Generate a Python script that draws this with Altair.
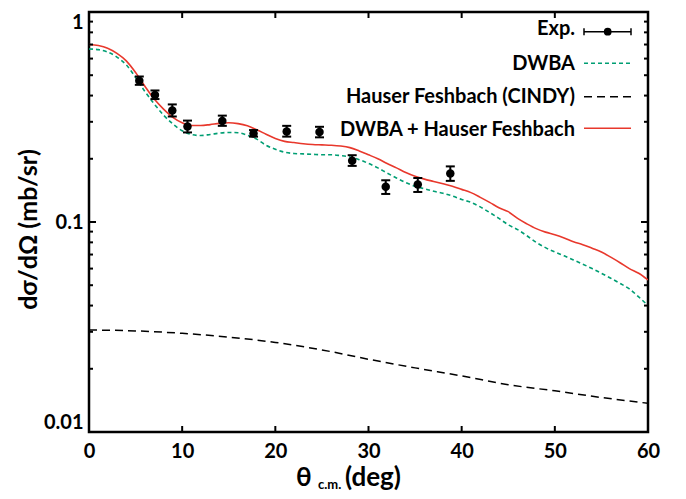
import altair as alt
import pandas as pd

# ---------------- data ----------------
theta_curve = list(range(0, 61))
dwba = [0.667, 0.662, 0.645, 0.610, 0.560, 0.488, 0.418, 0.365, 0.323, 0.293,
        0.272, 0.261, 0.258, 0.261, 0.265, 0.267, 0.266, 0.259, 0.248, 0.232,
        0.222, 0.215, 0.212, 0.211, 0.210, 0.209, 0.209, 0.207, 0.204, 0.198,
        0.190, 0.181, 0.171, 0.162, 0.154, 0.148, 0.144, 0.140, 0.137, 0.133,
        0.128, 0.124, 0.118, 0.111, 0.104, 0.097, 0.092, 0.086, 0.080, 0.0755,
        0.072, 0.069, 0.066, 0.063, 0.060, 0.057, 0.054, 0.051, 0.048, 0.044,
        0.040]
dwba_hf = [0.700, 0.692, 0.672, 0.635, 0.585, 0.515, 0.443, 0.385, 0.345, 0.315,
           0.297, 0.288, 0.288, 0.291, 0.295, 0.297, 0.294, 0.287, 0.275, 0.262,
           0.250, 0.242, 0.239, 0.236, 0.234, 0.233, 0.232, 0.230, 0.226, 0.218,
           0.209, 0.200, 0.190, 0.181, 0.172, 0.165, 0.160, 0.156, 0.152, 0.148,
           0.143, 0.138, 0.131, 0.124, 0.117, 0.112, 0.104, 0.098, 0.093, 0.0895,
           0.087, 0.084, 0.0805, 0.078, 0.075, 0.072, 0.068, 0.064, 0.060, 0.057,
           0.053]
hf_theta = [0, 5, 10, 15, 20, 25, 30, 35, 40, 45, 50, 55, 60]
hf = [0.0306, 0.0303, 0.0295, 0.0283, 0.0267, 0.0246, 0.0222, 0.0202, 0.0185,
      0.0168, 0.0157, 0.0146, 0.0137]

exp_theta = [5.40, 7.08, 8.94, 10.57, 14.31, 17.66, 21.22, 24.74, 28.25, 31.85, 35.29, 38.78]
exp_val = [0.471, 0.403, 0.340, 0.285, 0.303, 0.264, 0.270, 0.268, 0.196, 0.147, 0.151, 0.170]
exp_lo = [0.450, 0.385, 0.318, 0.267, 0.287, 0.255, 0.255, 0.253, 0.185, 0.136, 0.139, 0.157]
exp_hi = [0.493, 0.423, 0.363, 0.304, 0.321, 0.274, 0.287, 0.284, 0.208, 0.158, 0.162, 0.184]

x_ticks = [0, 10, 20, 30, 40, 50, 60]
y_major = [0.01, 0.1, 1]
y_minor = [0.02, 0.03, 0.04, 0.05, 0.06, 0.07, 0.08, 0.09,
           0.2, 0.3, 0.4, 0.5, 0.6, 0.7, 0.8, 0.9]

legend_labels = ["Exp.", "DWBA", "Hauser Feshbach (CINDY)", "DWBA + Hauser Feshbach"]

# ---------------- styling ----------------
W, H = 559, 420
FONT = "Lato"
GREEN = "#009E73"
RED = "#e8382c"

xs = alt.Scale(domain=[0, 60], nice=False, zero=False, padding=0)
ys = alt.Scale(type="log", domain=[0.01, 1], nice=False, padding=0)

x_axis = alt.Axis(values=x_ticks, ticks=False, domain=False, grid=False,
                  labelFont=FONT, labelFontSize=20, labelFontWeight="bold",
                  labelColor="black", labelPadding=9, labelFlush=False, title=None)
y_axis = alt.Axis(values=y_major, format="~g", ticks=False, domain=False, grid=False,
                  labelFont=FONT, labelFontSize=20, labelFontWeight="bold",
                  labelColor="black", labelPadding=6, labelFlush=True,
                  title="dσ/dΩ  (mb/sr)", titleFont=FONT, titleFontSize=25,
                  titleFontWeight="bold", titleColor="black", titleAngle=270,
                  titleX=-61, titleY=217, titleAlign="center", titleBaseline="middle")


def X(field):
    return alt.X(field, type="quantitative", scale=xs, axis=x_axis)


def Y(field):
    return alt.Y(field, type="quantitative", scale=ys, axis=y_axis)


curves = pd.DataFrame({"theta": theta_curve, "dwba": dwba, "sum": dwba_hf})
hf_df = pd.DataFrame({"theta": hf_theta, "hf": hf})
exp_df = pd.DataFrame({"theta": exp_theta, "val": exp_val, "lo": exp_lo, "hi": exp_hi})

base_curves = alt.Chart(curves)

dwba_line = base_curves.mark_line(color=GREEN, strokeWidth=1.6, strokeDash=[4, 3],
                                  interpolate="monotone", clip=True).encode(
    x=X("theta"), y=Y("dwba"))
sum_line = base_curves.mark_line(color=RED, strokeWidth=1.6, interpolate="monotone",
                                 clip=True).encode(x=X("theta"), y=Y("sum"))
hf_line = alt.Chart(hf_df).mark_line(color="black", strokeWidth=1.5, strokeDash=[8, 5],
                                     interpolate="monotone", clip=True).encode(
    x=X("theta"), y=Y("hf"))

base_exp = alt.Chart(exp_df)
err = base_exp.mark_rule(color="black", strokeWidth=2).encode(
    x=X("theta"), y=Y("lo"), y2="hi")
cap_lo = base_exp.mark_tick(color="black", opacity=1, orient="horizontal", size=9,
                            thickness=2).encode(x=X("theta"), y=Y("lo"))
cap_hi = base_exp.mark_tick(color="black", opacity=1, orient="horizontal", size=9,
                            thickness=2).encode(x=X("theta"), y=Y("hi"))
pts = base_exp.mark_circle(color="black", opacity=1, size=72).encode(
    x=X("theta"), y=Y("val"))

# inward tick marks on all four sides
ymaj_df = pd.DataFrame({"v": y_major})
ymin_df = pd.DataFrame({"v": y_minor})
xt_df = pd.DataFrame({"theta": x_ticks[1:-1]})
tk = dict(color="black", strokeWidth=2)
ticks = [
    alt.Chart(ymaj_df).mark_rule(**tk).encode(y=Y("v"), x=alt.value(0), x2=alt.value(7)),
    alt.Chart(ymaj_df).mark_rule(**tk).encode(y=Y("v"), x=alt.value(W - 7), x2=alt.value(W)),
    alt.Chart(ymin_df).mark_rule(**tk).encode(y=Y("v"), x=alt.value(0), x2=alt.value(4)),
    alt.Chart(ymin_df).mark_rule(**tk).encode(y=Y("v"), x=alt.value(W - 4), x2=alt.value(W)),
    alt.Chart(xt_df).mark_rule(**tk).encode(x=X("theta"), y=alt.value(H), y2=alt.value(H - 6)),
    alt.Chart(xt_df).mark_rule(**tk).encode(x=X("theta"), y=alt.value(0), y2=alt.value(6)),
]

# legend (top right, inside the frame)
one = pd.DataFrame({"k": [0]})
TX = 486
S0, S1 = 495, 542
rows_text = [23, 58, 91, 124]
ly = [19.7, 51.3, 84.7, 116.3]
leg = []
for lab, ty in zip(legend_labels, rows_text):
    leg.append(alt.Chart(one).mark_text(font=FONT, fontSize=20, fontWeight="bold",
                                        align="right", baseline="alphabetic",
                                        color="black").encode(
        x=alt.value(TX), y=alt.value(ty), text=alt.value(lab)))
leg += [
    alt.Chart(one).mark_rule(color="black", strokeWidth=1.5).encode(
        x=alt.value(S0), x2=alt.value(S1), y=alt.value(ly[0])),
    alt.Chart(one).mark_rule(color="black", strokeWidth=1.5).encode(
        x=alt.value(S0), y=alt.value(ly[0] - 3.5), y2=alt.value(ly[0] + 3.5)),
    alt.Chart(one).mark_rule(color="black", strokeWidth=1.5).encode(
        x=alt.value(S1), y=alt.value(ly[0] - 3.5), y2=alt.value(ly[0] + 3.5)),
    alt.Chart(one).mark_circle(color="black", opacity=1, size=60).encode(
        x=alt.value(518.7), y=alt.value(ly[0])),
    alt.Chart(one).mark_rule(color=GREEN, strokeWidth=1.6, strokeDash=[4, 3]).encode(
        x=alt.value(S0), x2=alt.value(S1), y=alt.value(ly[1])),
    alt.Chart(one).mark_rule(color="black", strokeWidth=1.5, strokeDash=[8, 5]).encode(
        x=alt.value(S0), x2=alt.value(S1), y=alt.value(ly[2])),
    alt.Chart(one).mark_rule(color=RED, strokeWidth=1.6).encode(
        x=alt.value(S0), x2=alt.value(S1), y=alt.value(ly[3])),
]

# x-axis title with subscript
xt = [
    alt.Chart(one).mark_text(font=FONT, fontSize=26, fontWeight="bold", align="left",
                             baseline="alphabetic", color="black").encode(
        x=alt.value(207), y=alt.value(474), text=alt.value("θ")),
    alt.Chart(one).mark_text(font=FONT, fontSize=13, fontWeight="bold", align="left",
                             baseline="alphabetic", color="black").encode(
        x=alt.value(229), y=alt.value(477), text=alt.value("c.m.")),
    alt.Chart(one).mark_text(font=FONT, fontSize=26, fontWeight="bold", align="left",
                             baseline="alphabetic", color="black").encode(
        x=alt.value(256), y=alt.value(474), text=alt.value("(deg)")),
]

chart = alt.layer(dwba_line, hf_line, sum_line, err, cap_lo, cap_hi, pts,
                  *ticks, *leg, *xt).properties(
    width=W, height=H,
    autosize=alt.AutoSizeParams(type="none"),
    padding={"left": 81, "top": 4, "right": 26, "bottom": 62},
    background="white",
).configure_view(stroke="black", strokeWidth=2.5)

chart.save("out.html", embed_options={"renderer": "svg", "actions": False})
